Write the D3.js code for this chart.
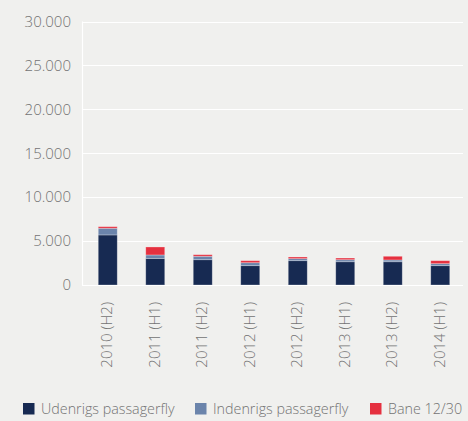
<!DOCTYPE html>
<html>
<head>
<meta charset="utf-8">
<script src="https://cdn.jsdelivr.net/npm/d3@7/dist/d3.min.js"></script>
<style>
  html, body { margin: 0; padding: 0; background: #f0f0ee; }
  svg { display: block; font-family: "Open Sans", "Noto Sans", sans-serif; }
</style>
</head>
<body>
<svg id="chart" width="468" height="421"></svg>
<script>
// Half-year periods
const periods = ["2010 (H2)", "2011 (H1)", "2011 (H2)", "2012 (H1)", "2012 (H2)", "2013 (H1)", "2013 (H2)", "2014 (H1)"];
// Stacked series values
const udenrigs  = [5700, 3030, 2880, 2200, 2770, 2650, 2650, 2200];
const indenrigs = [ 760,  390,  390,  340,  230,  230,  200,  230];
const bane      = [ 180,  910,  180,  230,  190,  190,  420,  340];
// Axis ticks
const yTicks = [0, 5000, 10000, 15000, 20000, 25000, 30000];
const seriesNames = ["Udenrigs passagerfly", "Indenrigs passagerfly", "Bane 12/30"];
const seriesColors = ["#172a52", "#6b84ab", "#e5303f"];

const svg = d3.select("#chart");
const plotLeft = 82, plotRight = 463, plotTop = 21.5, plotBottom = 285;

const rows = periods.map((p, i) => ({ period: p, u: udenrigs[i], i2: indenrigs[i], b: bane[i] }));
const stack = d3.stack().keys(["u", "i2", "b"])(rows);

const x = d3.scaleBand().domain(periods).range([84, 464]).paddingInner(0.6).paddingOuter(0.3);
const y = d3.scaleLinear().domain([0, 30000]).range([plotBottom, plotTop]);
const fmt = v => d3.format(",")(v).replace(/,/g, ".");

// grid lines
svg.append("g").selectAll("line").data(yTicks).join("line")
  .attr("x1", plotLeft).attr("x2", plotRight)
  .attr("y1", d => Math.round(y(d)) + 0.5).attr("y2", d => Math.round(y(d)) + 0.5)
  .attr("stroke", "#ffffff").attr("stroke-width", 1.2);
svg.append("line")
  .attr("x1", plotLeft + 0.5).attr("x2", plotLeft + 0.5)
  .attr("y1", y(30000)).attr("y2", y(0))
  .attr("stroke", "#ffffff").attr("stroke-width", 1.2);

// y axis labels
const yAxis = d3.axisLeft(y).tickValues(yTicks).tickFormat(fmt).tickSize(0).tickPadding(0);
const gy = svg.append("g").attr("transform", `translate(71,0)`).call(yAxis);
gy.select(".domain").remove();
gy.selectAll("text").attr("fill", "#737373").attr("font-size", 15).attr("font-weight", 300)
  .attr("font-family", "'Open Sans', 'Noto Sans', sans-serif");

// stacked bars
svg.append("g").selectAll("g").data(stack).join("g")
  .attr("fill", (d, i) => seriesColors[i])
  .selectAll("rect").data(d => d).join("rect")
  .attr("x", d => x(d.data.period))
  .attr("width", x.bandwidth())
  .attr("y", d => y(d[1]))
  .attr("height", d => y(d[0]) - y(d[1]))
  .attr("stroke", "rgba(255,255,255,0.35)").attr("stroke-width", 0.8);

// x axis labels (rotated)
const xAxis = d3.axisBottom(x).tickSize(0).tickPadding(0);
const gx = svg.append("g").attr("transform", `translate(-1,${plotBottom})`).call(xAxis);
gx.select(".domain").remove();
gx.selectAll("text")
  .attr("transform", "rotate(-90)")
  .attr("x", -17).attr("y", 0).attr("dy", "0.35em")
  .attr("text-anchor", "end")
  .attr("fill", "#737373").attr("font-size", 15).attr("font-weight", 300)
  .attr("font-family", "'Open Sans', 'Noto Sans', sans-serif");

// legend
const legendX = [23, 195, 370];
const lg = svg.append("g").selectAll("g").data(seriesNames).join("g")
  .attr("transform", (d, i) => `translate(${legendX[i]},403)`);
lg.append("rect").attr("width", 11.5).attr("height", 11.5).attr("fill", (d, i) => seriesColors[i]);
lg.append("text").attr("x", 18).attr("y", 6).attr("dy", "0.35em")
  .attr("fill", "#737373").attr("font-size", 14.3).attr("font-weight", 300)
  .text(d => d);
</script>
</body>
</html>
